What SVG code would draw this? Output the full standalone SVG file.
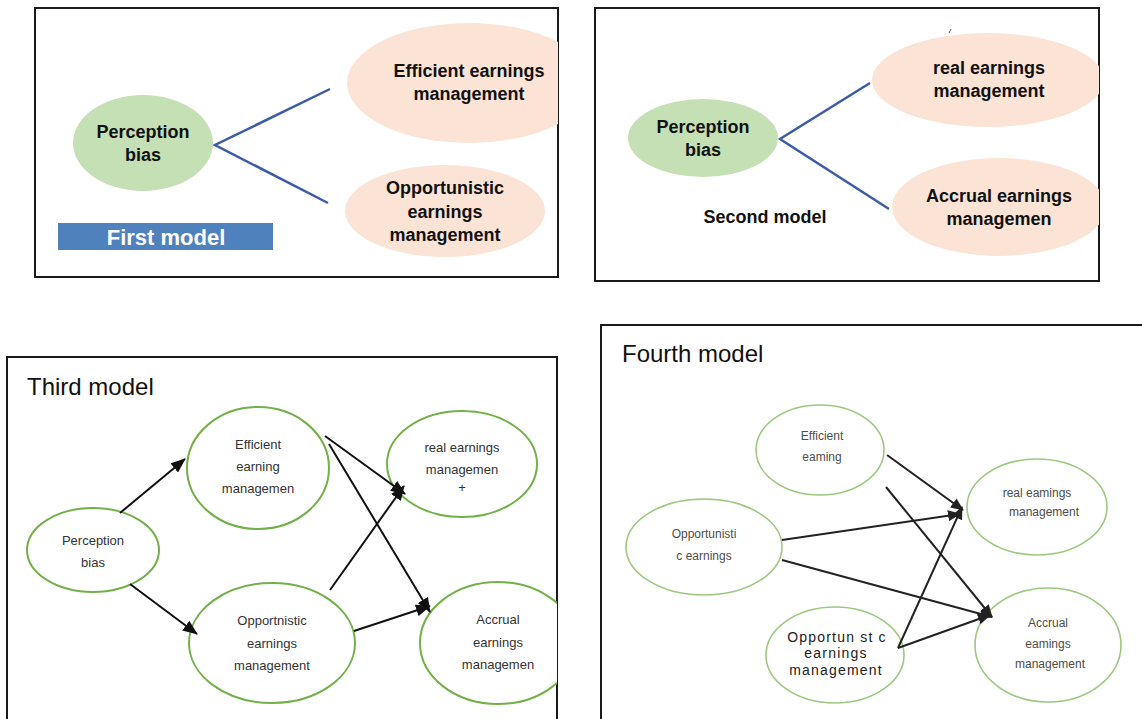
<svg xmlns="http://www.w3.org/2000/svg" width="1142" height="719" viewBox="0 0 1142 719">
  <style>
    .frame { fill: none; stroke: #1a1a1a; stroke-width: 2; }
    .bold { font-family: "Liberation Sans", Arial, sans-serif; font-weight: bold; font-size: 18px; fill: #111; text-anchor: middle; }
    .bias { fill: #c5e0b4; }
    .peach { fill: #fbe4d5; }
    .blue { stroke: #3d5ca8; stroke-width: 2.5; fill: none; }
    .title { font-family: "Liberation Sans", Arial, sans-serif; font-size: 24px; fill: #111; }
    .g3 { fill: #fff; stroke: #74b04a; stroke-width: 2; }
    .g4 { fill: #fff; stroke: #9cc97f; stroke-width: 1.6; }
    .t3 { font-family: "Liberation Sans", Arial, sans-serif; font-size: 13px; fill: #333; text-anchor: middle; }
    .t4 { font-family: "Liberation Sans", Arial, sans-serif; font-size: 12px; fill: #4d4d4d; text-anchor: middle; }
    .t4b { font-family: "Liberation Sans", Arial, sans-serif; font-size: 14px; letter-spacing: 1.2px; fill: #222; text-anchor: middle; }
    .arrow { stroke: #111; stroke-width: 2; fill: none; marker-end: url(#head); }
    .arrow4 { stroke: #222; stroke-width: 2; fill: none; marker-end: url(#head4); }
  </style>
  <defs>
    <marker id="head" markerUnits="userSpaceOnUse" markerWidth="16" markerHeight="12" refX="14" refY="6" orient="auto">
      <path d="M0,0 L15,6 L0,12 z" fill="#111"/>
    </marker>
    <marker id="head4" markerUnits="userSpaceOnUse" markerWidth="14" markerHeight="12" refX="12" refY="6" orient="auto">
      <path d="M0,0.5 L13,6 L0,11.5 z" fill="#222"/>
    </marker>
    <clipPath id="clip1"><rect x="35" y="8" width="523" height="269"/></clipPath>
    <clipPath id="clip2"><rect x="595" y="8" width="504" height="273"/></clipPath>
    <clipPath id="clip3"><rect x="7" y="357" width="550" height="362"/></clipPath>
  </defs>
  <rect width="1142" height="719" fill="#fff"/>

  <!-- First model -->
  <g id="model1">
    <rect class="frame" x="35" y="8" width="523" height="269"/>
    <g id="m1-connectors">
      <polyline class="blue" points="330,89 215,145 328,203"/>
    </g>
    <g id="m1-bias">
      <ellipse class="bias" cx="143" cy="143" rx="70" ry="48"/>
      <text class="bold" x="143" y="138">Perception</text>
      <text class="bold" x="143" y="161">bias</text>
    </g>
    <g id="m1-efficient" clip-path="url(#clip1)">
      <ellipse class="peach" cx="469" cy="83" rx="122" ry="60"/>
      <text class="bold" x="469" y="77">Efficient earnings</text>
      <text class="bold" x="469" y="100">management</text>
    </g>
    <g id="m1-opportunistic">
      <ellipse class="peach" cx="445" cy="211" rx="100" ry="46"/>
      <text class="bold" x="445" y="194">Opportunistic</text>
      <text class="bold" x="445" y="218">earnings</text>
      <text class="bold" x="445" y="241">management</text>
    </g>
    <g id="m1-label">
      <rect x="58" y="223" width="215" height="27" fill="#4f81bd"/>
      <text x="166" y="245" font-family="'Liberation Sans', Arial, sans-serif" font-weight="bold" font-size="22" fill="#fff" text-anchor="middle">First model</text>
    </g>
  </g>

  <!-- Second model -->
  <g id="model2">
    <rect class="frame" x="595" y="8" width="504" height="273"/>
    <path d="M949,33 L951,29" stroke="#3d5ca8" stroke-width="1"/>
    <g id="m2-connectors">
      <polyline class="blue" points="870,83 780,139 889,209"/>
    </g>
    <g id="m2-bias">
      <ellipse class="bias" cx="703" cy="138" rx="75" ry="39"/>
      <text class="bold" x="703" y="133">Perception</text>
      <text class="bold" x="703" y="156">bias</text>
    </g>
    <g id="m2-real" clip-path="url(#clip2)">
      <ellipse class="peach" cx="988" cy="80" rx="116" ry="47"/>
      <text class="bold" x="989" y="74">real earnings</text>
      <text class="bold" x="989" y="97">management</text>
    </g>
    <g id="m2-accrual" clip-path="url(#clip2)">
      <ellipse class="peach" cx="999" cy="207" rx="107" ry="49"/>
      <text class="bold" x="999" y="202">Accrual earnings</text>
      <text class="bold" x="999" y="225">managemen</text>
    </g>
    <g id="m2-label">
      <text class="bold" x="765" y="223">Second model</text>
    </g>
  </g>

  <!-- Third model -->
  <g id="model3">
    <polyline class="frame" points="7,719 7,357 557,357 557,719"/>
    <text class="title" x="27" y="395">Third model</text>
    <g id="m3-bias">
      <ellipse class="g3" cx="93" cy="550" rx="66" ry="42"/>
      <text class="t3" x="93" y="545">Perception</text>
      <text class="t3" x="93" y="567">bias</text>
    </g>
    <g id="m3-efficient">
      <ellipse class="g3" cx="258" cy="468" rx="71" ry="61"/>
      <text class="t3" x="258" y="449">Efficient</text>
      <text class="t3" x="258" y="471">earning</text>
      <text class="t3" x="258" y="493">managemen</text>
    </g>
    <g id="m3-opportunistic">
      <ellipse class="g3" cx="272" cy="643" rx="83" ry="60"/>
      <text class="t3" x="272" y="625" font-size="14">Opportnistic</text>
      <text class="t3" x="272" y="648" font-size="14">earnings</text>
      <text class="t3" x="272" y="670" font-size="14">management</text>
    </g>
    <g id="m3-real">
      <ellipse class="g3" cx="462" cy="464" rx="75" ry="53"/>
      <text class="t3" x="462" y="452">real earnings</text>
      <text class="t3" x="462" y="474">managemen</text>
      <text class="t3" x="462" y="492" font-size="9" fill="#222">+</text>
    </g>
    <g id="m3-accrual" clip-path="url(#clip3)">
      <ellipse class="g3" cx="498" cy="643" rx="78" ry="61"/>
      <text class="t3" x="498" y="624">Accrual</text>
      <text class="t3" x="498" y="647">earnings</text>
      <text class="t3" x="498" y="669">managemen</text>
    </g>
    <g id="m3-connectors">
      <line class="arrow" x1="120" y1="513" x2="185" y2="459"/>
      <line class="arrow" x1="130" y1="584" x2="197" y2="634"/>
      <line class="arrow" x1="325" y1="436" x2="405" y2="494"/>
      <line class="arrow" x1="329" y1="444" x2="430" y2="612"/>
      <line class="arrow" x1="330" y1="590" x2="404" y2="486"/>
      <line class="arrow" x1="354" y1="631" x2="430" y2="606"/>
    </g>
  </g>

  <!-- Fourth model -->
  <g id="model4">
    <polyline class="frame" points="601,719 601,325 1142,325"/>
    <text class="title" x="622" y="362">Fourth model</text>
    <g id="m4-efficient">
      <ellipse class="g4" cx="820" cy="450" rx="64" ry="45"/>
      <text class="t4" x="822" y="440">Efficient</text>
      <text class="t4" x="822" y="461">eaming</text>
    </g>
    <g id="m4-opportunistic">
      <ellipse class="g4" cx="704" cy="547" rx="78" ry="48"/>
      <text class="t4" x="704" y="538">Opportunisti</text>
      <text class="t4" x="704" y="560">c earnings</text>
    </g>
    <g id="m4-opportunistic-mgmt">
      <ellipse class="g4" cx="835" cy="655" rx="69" ry="48"/>
      <text class="t4b" x="837" y="642">Opportun st c</text>
      <text class="t4b" x="836" y="658">earnings</text>
      <text class="t4b" x="836" y="675">management</text>
    </g>
    <g id="m4-real">
      <ellipse class="g4" cx="1037" cy="507" rx="70" ry="48"/>
      <text class="t4" x="1037" y="497">real eamings</text>
      <text class="t4" x="1044" y="516">management</text>
    </g>
    <g id="m4-accrual">
      <ellipse class="g4" cx="1048" cy="645" rx="73" ry="57"/>
      <text class="t4" x="1048" y="627">Accrual</text>
      <text class="t4" x="1048" y="648">eamings</text>
      <text class="t4" x="1050" y="668">management</text>
    </g>
    <g id="m4-connectors">
      <line class="arrow4" x1="887" y1="455" x2="963" y2="510"/>
      <line class="arrow4" x1="886" y1="487" x2="992" y2="617"/>
      <line class="arrow4" x1="782" y1="540" x2="960" y2="514"/>
      <line class="arrow4" x1="782" y1="560" x2="992" y2="617"/>
      <line class="arrow4" x1="898" y1="648" x2="962" y2="507"/>
      <line class="arrow4" x1="898" y1="648" x2="990" y2="615"/>
    </g>
  </g>
</svg>
